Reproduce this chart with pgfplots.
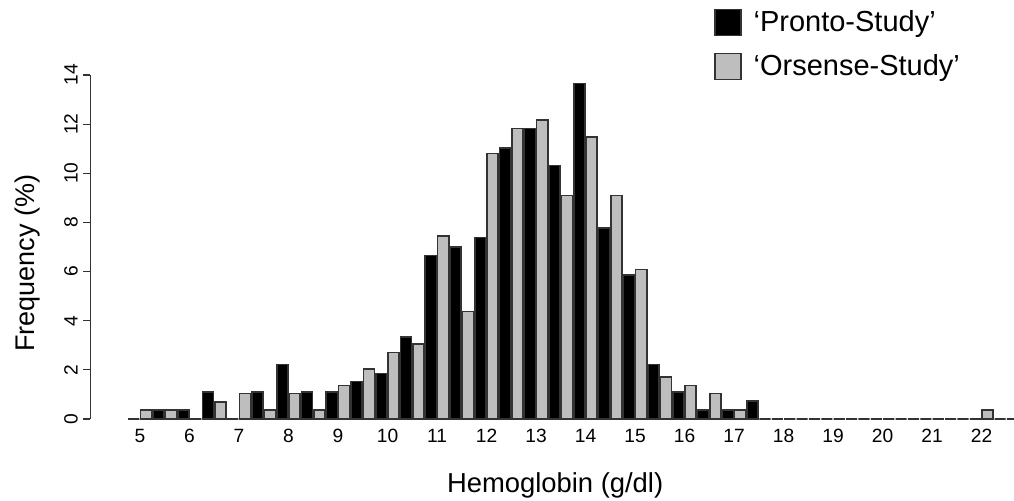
\documentclass[border=0pt]{standalone}
\usepackage{pgfplots}
\pgfplotsset{compat=1.18}
\usepackage{fontspec}
\setmainfont{Liberation Sans}
\definecolor{rgrey}{HTML}{BEBEBE}
\definecolor{edge}{HTML}{333333}
\pgfplotstableread{
v pronto orsense
5 0 0.37
5.5 0.37 0.37
6 0.37 0
6.5 1.11 0.70
7 0 1.04
7.5 1.11 0.37
8 2.22 1.04
8.5 1.11 0.37
9 1.11 1.37
9.5 1.52 2.03
10 1.85 2.71
10.5 3.33 3.04
11 6.65 7.45
11.5 7.00 4.37
12 7.39 10.80
12.5 11.03 11.82
13 11.82 12.16
13.5 10.31 9.10
14 13.66 11.48
14.5 7.77 9.10
15 5.87 6.08
15.5 2.21 1.71
16 1.11 1.37
16.5 0.37 1.04
17 0.37 0.37
17.5 0.74 0
18 0 0
18.5 0 0
19 0 0
19.5 0 0
20 0 0
20.5 0 0
21 0 0
21.5 0 0
22 0 0.37
22.5 0 0
}\hb
\begin{document}
\begin{tikzpicture}
\path[use as bounding box] (0,0) rectangle (507pt,250.5pt);
\begin{axis}[
  at={(45.25pt,41pt)}, anchor=south west,
  scale only axis, width=461.85pt, height=172pt,
  xmin=4, xmax=22.66, ymin=0, ymax=14,
  clip=false,
  axis x line*=bottom, axis y line*=left,
  x axis line style={draw=none},
  y axis line style={-, line width=0.6pt, color=edge},
  xtick={5,...,22},
  ytick={0,2,...,14},
  tick align=outside,
  major tick length=3.5pt,
  xtick style={draw=none},
  ytick style={line width=0.6pt, color=edge},
  /pgf/number format/assume math mode=true,
  xticklabel style={anchor=center, yshift=-5pt, font=\fontsize{9.6}{11}\selectfont},
  yticklabel style={anchor=center, xshift=-6.25pt, rotate=90, font=\fontsize{9.6}{11}\selectfont},
  xlabel={Hemoglobin (g/dl)},
  ylabel={Frequency (\%)},
  xlabel style={at={(axis description cs:0.503,-0.2151)}, anchor=base, font=\fontsize{13.7}{15}\selectfont},
  ylabel style={at={(axis description cs:-0.0601,0.453)}, anchor=base, font=\fontsize{13.5}{15}\selectfont},
  legend style={at={(axis description cs:0.675,1.193)}, anchor=north west, draw=none, fill=none,
    inner sep=0pt, row sep=8.3pt, column sep=6pt, font=\fontsize{14.5}{16}\selectfont,
    nodes={inner sep=0pt}},
  legend cell align=left,
  legend image code/.code={\draw[#1, line width=0.6pt] (0pt,-6.5pt) rectangle (13pt,6.5pt);},
]
\addplot[ybar, bar width=0.225, bar shift=-0.125, fill=black, draw=edge, line width=0.8pt] table[x=v, y=pronto] {\hb};
\addlegendentry{‘Pronto-Study’}
\addplot[ybar, bar width=0.225, bar shift=0.125, fill=rgrey, draw=edge, line width=0.8pt] table[x=v, y=orsense] {\hb};
\addlegendentry{‘Orsense-Study’}
\end{axis}
\end{tikzpicture}
\end{document}
